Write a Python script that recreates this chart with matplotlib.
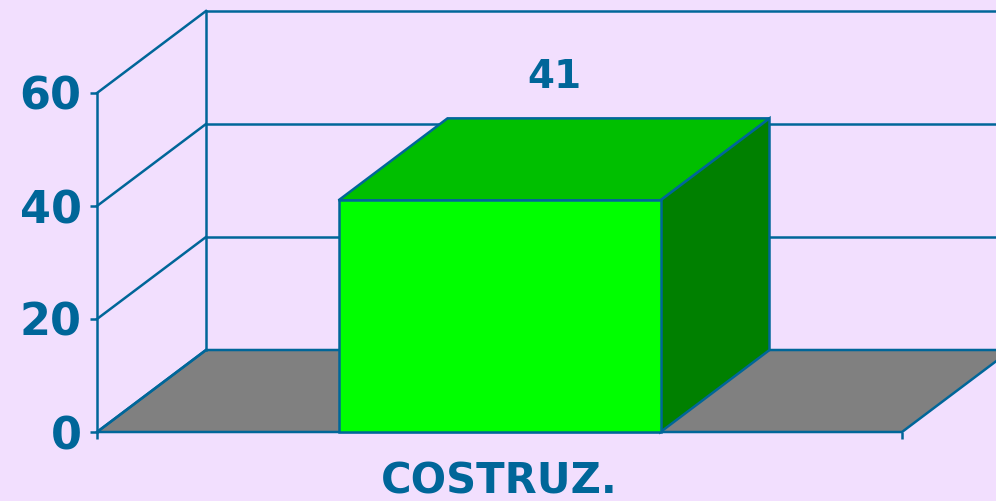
import matplotlib
matplotlib.use('Agg')
import matplotlib.pyplot as plt
from matplotlib.patches import Polygon

categories = ['COSTRUZ.']
values = [41]
yticks = [0, 20, 40, 60]

W, H = 996, 501
bg = '#F2DFFE'
line = '#006699'

fig = plt.figure(figsize=(W/100, H/100), dpi=100, facecolor=bg)
# front plane of the fake 3d box
ax = fig.add_axes([97/W, 1-432/H, 805/W, 339/H])
ax.set_xlim(-0.5, 0.5)
ax.set_ylim(0, 60)
ax.patch.set_visible(False)
for s in ax.spines.values():
    s.set_visible(False)

# depth offset of the box, in axis units
dx = 109/805
dy = 82/339*60
lw = 1.8
bw = 0.4

x0, x1 = ax.get_xlim()
ymax = yticks[-1]


def poly(pts, fc, z):
    ax.add_patch(Polygon(pts, closed=True, fc=fc, ec=line, lw=lw, zorder=z, clip_on=False))


# floor
poly([(x0, 0), (x1, 0), (x1+dx, dy), (x0+dx, dy)], '#808080', 1)

# walls and gridlines
for t in yticks:
    ax.plot([x0, x0+dx], [t, t+dy], color=line, lw=lw, clip_on=False, zorder=2)
    if t > 0:
        ax.plot([x0+dx, x1+dx], [t+dy, t+dy], color=line, lw=lw, clip_on=False, zorder=2)
ax.plot([x0, x0], [0, ymax], color=line, lw=lw, clip_on=False, zorder=2)
ax.plot([x0+dx, x0+dx], [dy, ymax+dy], color=line, lw=lw, clip_on=False, zorder=2)

# bar
for i, v in enumerate(values):
    l, r = i-bw/2, i+bw/2
    poly([(l, v), (r, v), (r+dx, v+dy), (l+dx, v+dy)], '#00BF00', 3)
    poly([(r, 0), (r+dx, dy), (r+dx, v+dy), (r, v)], '#008000', 3)
    ax.bar(i, v, bw, color='#00FF00', edgecolor=line, lw=lw, zorder=4, clip_on=False)
    ax.annotate(str(v), (i+dx/2, v+dy), xytext=(0, 16), textcoords='offset points',
                ha='center', va='bottom', fontsize=28, fontweight='bold', color=line,
                family='DejaVu Sans')

ax.set_xticks([x0, x1])
ax.set_xticklabels([])
ax.set_yticks(yticks)
ax.tick_params(axis='both', color=line, width=lw, length=5, direction='out')
ax.tick_params(axis='y', labelsize=32, labelcolor=line, pad=6)
for lab in ax.get_yticklabels():
    lab.set_fontweight('bold')
ax.text(0, -5.1, categories[0], ha='center', va='top', fontsize=30, fontweight='bold', color=line,
        clip_on=False)

fig.savefig('out.png', dpi=100, facecolor=bg)
